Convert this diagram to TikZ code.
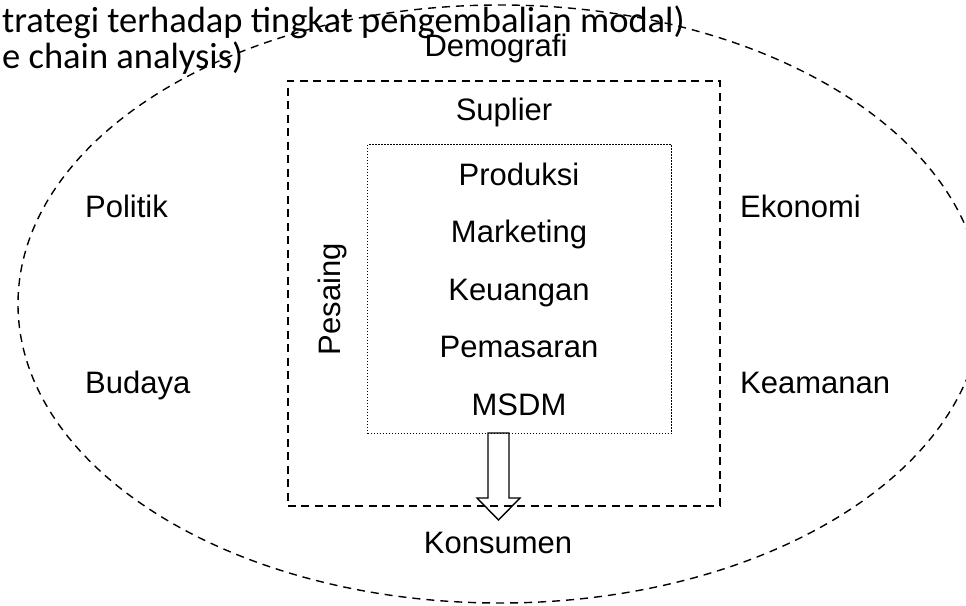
\documentclass[tikz,border=0pt]{standalone}
\usepackage{fontspec}
\setmainfont{Liberation Sans}
\newfontfamily\calib{Carlito}
\begin{document}
\begin{tikzpicture}[x=1pt,y=-1pt,
  lbl/.style={font=\fontsize{31}{31}\selectfont, inner sep=0pt},
  ctxt/.style={font=\calib\fontsize{36.5}{36.5}\selectfont, inner sep=0pt, anchor=base west},
  outerbox/.style={draw, line width=1.8pt, dash pattern=on 8pt off 5.5pt, inner sep=0pt},
  innerbox/.style={draw, line width=1.3pt, dash pattern=on 1.5pt off 1.5pt, inner sep=0pt},
  env/.style={draw, line width=1.4pt, dash pattern=on 8pt off 6pt},
  blockarrow/.style={draw, line width=1.4pt, line join=miter},
]
\useasboundingbox (0,0) rectangle (966,605);
\begin{scope}
\clip (0,0) rectangle (966,605);
% clipped caption text at top left
\node[ctxt] (cap1) at (2,32) {trategi terhadap tingkat pengembalian modal)};
\node[ctxt] (cap2) at (2,68) {e chain analysis)};
% environment ellipse
\draw[env] (500,304) ellipse [x radius=482pt, y radius=299pt];
% boxes
\node[outerbox, minimum width=432pt, minimum height=425pt, anchor=north west] (outer) at (287,80) {};
\node[innerbox, minimum width=304pt, minimum height=289pt, anchor=north west] (inner) at (367,144) {};
% labels
\node[lbl, anchor=base] (demografi) at (496,56) {Demografi};
\node[lbl, anchor=base] (suplier) at (504,120) {Suplier};
\node[lbl, anchor=base] (produksi) at (519,185) {Produksi};
\node[lbl, anchor=base] (marketing) at (519,242) {Marketing};
\node[lbl, anchor=base] (keuangan) at (519,300) {Keuangan};
\node[lbl, anchor=base] (pemasaran) at (519,357) {Pemasaran};
\node[lbl, anchor=base] (msdm) at (519,415) {MSDM};
\node[lbl, anchor=base, rotate=90] (pesaing) at (340,299) {Pesaing};
\node[lbl, anchor=base west] (politik) at (85,217) {Politik};
\node[lbl, anchor=base west] (budaya) at (85,393) {Budaya};
\node[lbl, anchor=base west] (ekonomi) at (740,217) {Ekonomi};
\node[lbl, anchor=base west] (keamanan) at (740,393) {Keamanan};
\node[lbl, anchor=base] (konsumen) at (498,553) {Konsumen};
% block arrow from inner box down to Konsumen
\coordinate (arrtop) at (498.5,433);
\draw[blockarrow] (arrtop) ++(-10.5,0) -- ++(0,65) -- ++(-11,0) -- ++(21.5,22) -- ++(21.5,-22) -- ++(-11,0) -- ++(0,-65) -- cycle;
\end{scope}
\end{tikzpicture}
\end{document}
